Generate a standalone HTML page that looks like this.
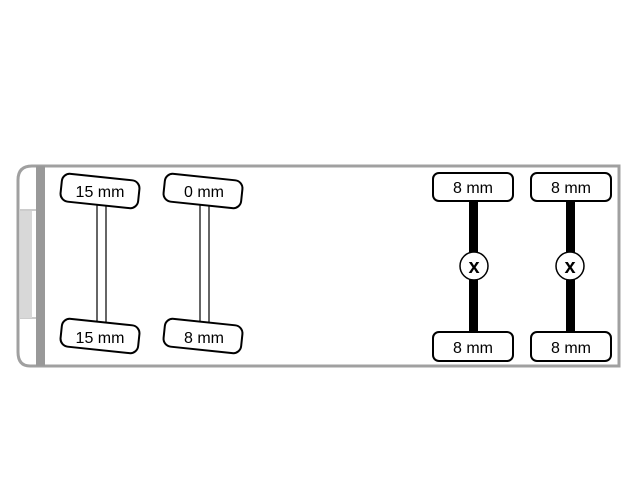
<!DOCTYPE html>
<html><head><style>
body{margin:0;background:#fff;}
</style></head><body>
<svg width="640" height="480" xmlns="http://www.w3.org/2000/svg" font-family="Liberation Sans, sans-serif">
<rect width="640" height="480" fill="#fff"/>
<path d="M38,166 L619,166 L619,366 L38,366 L30,366 Q18,366 18,352 L18,180 Q18,166 32,166 Z" fill="#fff" stroke="#a0a0a0" stroke-width="3"/>
<rect x="36" y="166" width="9" height="200" fill="#999"/>
<line x1="20" y1="210" x2="36" y2="210" stroke="#999" stroke-width="1"/>
<line x1="20" y1="318" x2="36" y2="318" stroke="#999" stroke-width="1"/>
<rect x="20" y="211" width="12" height="107" fill="#d8d8d8"/>
<g stroke="#000" stroke-width="1.2" fill="#fff">
<rect x="97" y="205" width="9" height="120"/>
<rect x="200" y="205" width="9" height="120"/>
</g>
<g stroke="#000" stroke-width="2" fill="#fff">
<rect x="61" y="177" width="78" height="28" rx="8" transform="rotate(6 100 191)"/>
<rect x="61" y="322" width="78" height="28" rx="8" transform="rotate(6 100 336)"/>
<rect x="164" y="177" width="78" height="28" rx="8" transform="rotate(6 203 191)"/>
<rect x="164" y="322" width="78" height="28" rx="8" transform="rotate(6 203 336)"/>
</g>
<g font-size="16" text-anchor="middle" fill="#000">
<text x="100" y="197">15 mm</text>
<text x="100" y="343">15 mm</text>
<text x="204" y="197">0 mm</text>
<text x="204" y="343">8 mm</text>
</g>
<rect x="469" y="200" width="9" height="132" fill="#000"/>
<rect x="566" y="200" width="9" height="132" fill="#000"/>
<g stroke="#000" stroke-width="1.5" fill="#fff">
<circle cx="474" cy="266" r="14"/>
<circle cx="570" cy="266" r="14"/>
</g>
<g stroke="#000" stroke-width="2" fill="#fff">
<rect x="433" y="173" width="80" height="28" rx="6"/>
<rect x="531" y="173" width="80" height="28" rx="6"/>
<rect x="433" y="332" width="80" height="29" rx="6"/>
<rect x="531" y="332" width="80" height="29" rx="6"/>
</g>
<g font-size="16" text-anchor="middle" fill="#000">
<text x="473" y="193">8 mm</text>
<text x="571" y="193">8 mm</text>
<text x="473" y="353">8 mm</text>
<text x="571" y="353">8 mm</text>
<text x="474" y="273" font-weight="bold" font-size="20">x</text>
<text x="570" y="273" font-weight="bold" font-size="20">x</text>
</g>
</svg>
</body></html>
